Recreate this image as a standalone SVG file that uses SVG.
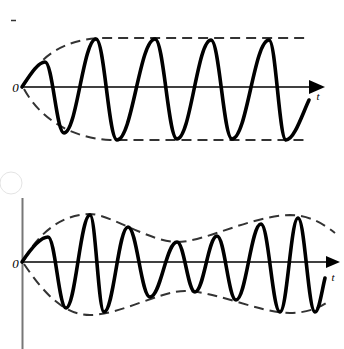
<svg xmlns="http://www.w3.org/2000/svg" width="344" height="349" viewBox="0 0 344 349">
<style>
.axis{stroke:#000;stroke-width:1.6;fill:none}
.wave{stroke:#000;stroke-width:3.6;fill:none;stroke-linejoin:round;stroke-linecap:round}
.env{stroke:#333;stroke-width:2;fill:none;stroke-dasharray:10 6}
.lbl{font-family:"Liberation Serif",serif;font-style:italic;fill:#000}
</style>
<rect width="344" height="349" fill="#fff"/>
<g id="marks">
<line x1="11" y1="20.5" x2="16" y2="20.5" stroke="#333" stroke-width="1.5"/>
<circle cx="11" cy="183" r="11" fill="#fff" stroke="#e4e4e4" stroke-width="1"/>
<line x1="22.5" y1="198" x2="22.5" y2="349" stroke="#777" stroke-width="2"/>
</g>
<g id="top-panel">
<path class="env" d="M24,85 C40,55 65,40 100,38 L307,38"/>
<path class="env" d="M24,89 C40,118 70,138 110,140 L307,140"/>
<line class="axis" x1="22" y1="87" x2="312" y2="87"/>
<polygon points="325,87 309,80 309,94" fill="#000"/>
<path class="wave" d="M22,87 C30,75 38,62 45,62 C52.6,62 56.4,133 64,133 C76.8,133 83.2,39 96,39 C104.4,39 108.6,140 117,140 C132.2,140 139.8,39 155,39 C163.8,39 168.2,139 177,139 C190.6,139 197.4,40 211,40 C219.4,40 223.6,139 232,139 C246.8,139 254.2,40 269,40 C275.8,40 279.2,140 286,140 C294,140 302,115 309,100"/>
<text class="lbl" x="15.5" y="92" font-size="13" text-anchor="middle">0</text>
<text class="lbl" x="318" y="100" font-size="11" text-anchor="middle">t</text>
</g>
<g id="bottom-panel">
<path class="env" d="M24,260 C40,230 65,214 90,214 C110,214 150,242 177,242 C205,242 250,216 290,215 C310,215 325,225 335,233"/>
<path class="env" d="M24,264 C45,295 65,315 90,315 C120,315 160,291 185,291 C215,291 260,313 290,313 C310,313 325,305 330,300"/>
<line class="axis" x1="22" y1="262" x2="328" y2="262"/>
<polygon points="340,262 326,256 326,268" fill="#000"/>
<path class="wave" d="M22,262 C30,250 40,237 48,237 C55.2,237 58.8,308 66,308 C75.6,308 80.4,215 90,215 C95.6,215 98.4,312 104,312 C113.6,312 118.4,227 128,227 C136.8,227 141.2,297 150,297 C160.8,297 166.2,242 177,242 C184.2,242 187.8,292 195,292 C203.8,292 208.2,236 217,236 C224.6,236 228.4,300 236,300 C246,300 251,224 261,224 C268.6,224 272.4,312 280,312 C287.2,312 290.8,218 298,218 C304.8,218 308.2,312 315,312 C319,312 322,290 325,278"/>
<text class="lbl" x="15.5" y="268" font-size="13" text-anchor="middle">0</text>
<text class="lbl" x="333" y="281" font-size="11" text-anchor="middle">t</text>
</g>
</svg>
